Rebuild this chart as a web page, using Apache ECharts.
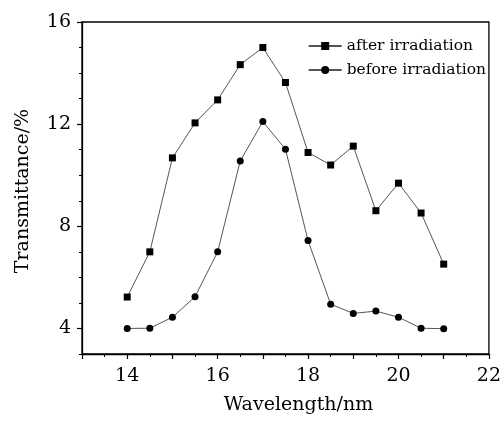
<!DOCTYPE html>
<html>
<head>
<meta charset="utf-8">
<script src="https://cdn.jsdelivr.net/npm/echarts@6/dist/echarts.min.js"></script>
<style>html,body{margin:0;padding:0;background:#fff}#c{width:504px;height:421px}</style>
</head>
<body>
<div id="c"></div>
<script>
const wavelengths = [14, 14.5, 15, 15.5, 16, 16.5, 17, 17.5, 18, 18.5, 19, 19.5, 20, 20.5, 21];
const afterIrradiation = [5.23, 7.0, 10.68, 12.05, 12.95, 14.33, 15.0, 13.63, 10.89, 10.4, 11.14, 8.61, 9.69, 8.52, 6.52];
const beforeIrradiation = [4.0, 4.01, 4.44, 5.24, 7.0, 10.56, 12.1, 11.02, 7.44, 4.95, 4.59, 4.68, 4.44, 4.01, 3.99];
const xLabelValues = [14, 16, 18, 20, 22];
const yLabelValues = [4, 8, 12, 16];
const seriesNames = ['after irradiation', 'before irradiation'];
const xTitle = 'Wavelength/nm';
const yTitle = 'Transmittance/%';

const FONT = 'DejaVu Serif';
const chart = echarts.init(document.getElementById('c'));
const pair = (ys) => wavelengths.map((x, i) => [x, ys[i]]);
const xMajor = [];
for (let v = 13; v <= 22; v += 1) xMajor.push(v);
const xMinor = [];
for (let v = 13; v <= 22; v += 0.5) xMinor.push(v);
const yMinor = [];
for (let v = 3; v <= 16; v += 1) yMinor.push(v);

chart.setOption({
  animation: false,
  backgroundColor: '#fff',
  grid: { left: 82, right: 12, top: 22, bottom: 67, show: true, borderColor: '#000', borderWidth: 1.3 },
  legend: {
    right: 13, top: 33, orient: 'vertical', align: 'left',
    itemWidth: 33, itemHeight: 10, itemGap: 8,
    textStyle: { fontFamily: FONT, fontSize: 15.5, color: '#000' },
    data: seriesNames
  },
  xAxis: [{
    type: 'value', min: 13, max: 22, position: 'bottom',
    name: xTitle, nameLocation: 'middle', nameGap: 42,
    nameTextStyle: { fontFamily: FONT, fontSize: 19, color: '#000', padding: [0, 0, 0, 26] },
    axisLine: { show: true, lineStyle: { color: '#000', width: 1.3 } },
    axisTick: { show: true, customValues: xMajor, length: 5, lineStyle: { color: '#000', width: 1.2 } },
    axisLabel: { customValues: xLabelValues, fontFamily: FONT, fontSize: 19, color: '#000', margin: 13 },
    splitLine: { show: false }
  }, {
    type: 'value', min: 13, max: 22, position: 'bottom',
    axisLine: { show: false },
    axisTick: { show: true, customValues: xMinor, length: 3, lineStyle: { color: '#000', width: 1 } },
    axisLabel: { show: false },
    splitLine: { show: false }
  }],
  yAxis: [{
    type: 'value', min: 3, max: 16, position: 'left',
    name: yTitle, nameLocation: 'middle', nameGap: 49,
    nameTextStyle: { fontFamily: FONT, fontSize: 19, color: '#000', padding: [0, 6, 0, 0] },
    axisLine: { show: true, lineStyle: { color: '#000', width: 1.3 } },
    axisTick: { show: true, customValues: yLabelValues, length: 5, lineStyle: { color: '#000', width: 1.2 } },
    axisLabel: { customValues: yLabelValues, fontFamily: FONT, fontSize: 19, color: '#000', margin: 11 },
    splitLine: { show: false }
  }, {
    type: 'value', min: 3, max: 16, position: 'left',
    axisLine: { show: false },
    axisTick: { show: true, customValues: yMinor, length: 3, lineStyle: { color: '#000', width: 1 } },
    axisLabel: { show: false },
    splitLine: { show: false }
  }],
  series: [{
    name: seriesNames[0], type: 'line', data: pair(afterIrradiation),
    symbol: 'rect', symbolSize: 7,
    lineStyle: { color: '#555', width: 1 },
    itemStyle: { color: '#000' }
  }, {
    name: seriesNames[1], type: 'line', data: pair(beforeIrradiation),
    symbol: 'circle', symbolSize: 7,
    lineStyle: { color: '#555', width: 1 },
    itemStyle: { color: '#000' }
  }]
});
</script>
</body>
</html>
